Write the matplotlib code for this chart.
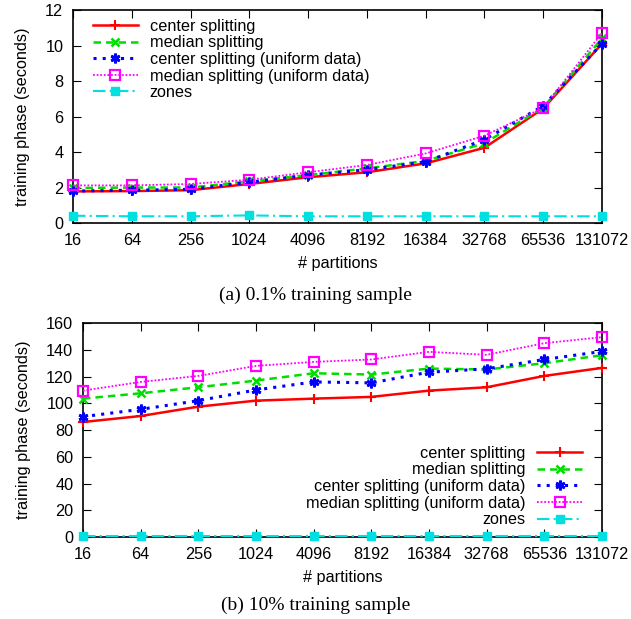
import matplotlib
matplotlib.use("Agg")
import matplotlib.pyplot as plt

plt.rcParams['font.family'] = ['Liberation Sans', 'DejaVu Sans']

partitions = ["16", "64", "256", "1024", "4096", "8192", "16384", "32768", "65536", "131072"]

# (a) 0.1% training sample
a_center = [1.78, 1.8, 1.85, 2.2, 2.58, 2.86, 3.36, 4.24, 6.45, 10.1]
a_median = [1.97, 2.0, 2.0, 2.35, 2.7, 3.08, 3.5, 4.5, 6.5, 10.4]
a_center_uni = [1.8, 1.85, 1.9, 2.3, 2.7, 3.0, 3.45, 4.7, 6.6, 10.1]
a_median_uni = [2.12, 2.12, 2.2, 2.44, 2.86, 3.27, 3.92, 4.92, 6.49, 10.7]
a_zones = [0.41, 0.38, 0.38, 0.43, 0.38, 0.38, 0.38, 0.38, 0.38, 0.38]

# (b) 10% training sample
b_center = [86.0, 90.5, 97.5, 102.0, 103.5, 104.8, 109.5, 112.0, 120.5, 126.5]
b_median = [103.5, 107.5, 112.0, 117.0, 122.5, 121.5, 126.0, 125.3, 130.0, 136.0]
b_center_uni = [90.0, 95.5, 102.0, 110.0, 116.0, 115.3, 123.3, 125.8, 132.8, 138.8]
b_median_uni = [109.5, 116.0, 120.5, 128.0, 131.0, 132.8, 138.5, 136.3, 145.0, 149.5]
b_zones = [0.5, 0.5, 0.5, 0.5, 0.5, 0.5, 0.5, 0.5, 0.5, 0.5]

labels = ["center splitting", "median splitting", "center splitting (uniform data)",
          "median splitting (uniform data)", "zones"]

styles = [
    dict(color='#ff0000', linestyle='-', marker='+', markersize=7, markeredgewidth=1.5, linewidth=1.8),
    dict(color='#00dd00', linestyle=(0, (3, 2)), marker='x', markersize=6, markeredgewidth=1.8, linewidth=1.8),
    dict(color='#0000ff', linestyle=(0, (1, 2)), marker=(6, 2, 0), markersize=7, markeredgewidth=2.0, linewidth=2.2),
    dict(color='#ff00ff', linestyle=(0, (1, 1)), marker='s', markersize=6.5, markerfacecolor='none',
         markeredgewidth=1.6, linewidth=1.3),
    dict(color='#00e0e0', linestyle=(0, (6, 2, 1, 2)), marker='s', markersize=6, linewidth=1.5),
]

fig = plt.figure(figsize=(6.31, 6.19), dpi=100)
ax1 = fig.add_axes([0.1157, 0.6397, 0.8383, 0.3441])
ax2 = fig.add_axes([0.1315, 0.1325, 0.8225, 0.3455])

x = list(range(len(partitions)))
fs = 11.7


def draw(ax, series, ymax, ystep):
    for ys, lab, st in zip(series, labels, styles):
        ax.plot(x, ys, label=lab, clip_on=False, zorder=3, **st)
    ax.set_xlim(0, len(partitions) - 1)
    ax.set_ylim(0, ymax)
    ax.set_yticks(range(0, ymax + 1, ystep))
    ax.set_xticks(x)
    ax.set_xticklabels(partitions)
    ax.tick_params(direction='in', top=True, right=True, length=6, labelsize=fs, pad=7)
    for s in ax.spines.values():
        s.set_linewidth(1.2)
    ax.set_xlabel("# partitions", fontsize=fs, labelpad=6)
    ax.set_ylabel("training phase (seconds)", fontsize=fs, labelpad=11)


draw(ax1, [a_center, a_median, a_center_uni, a_median_uni, a_zones], 12, 2)
draw(ax2, [b_center, b_median, b_center_uni, b_median_uni, b_zones], 160, 20)

ax1.legend(loc='upper left', frameon=False, fontsize=fs, handlelength=2.8,
           labelspacing=0.1, borderaxespad=0.0, handletextpad=0.7,
           bbox_to_anchor=(0.025, 0.99))
ax2.legend(loc='lower right', frameon=False, fontsize=fs, handlelength=2.8,
           labelspacing=0.1, borderaxespad=0.0, handletextpad=0.7, markerfirst=False,
           bbox_to_anchor=(0.975, 0.015))

fig.text(0.5, 1 - 295 / 619, "(a) 0.1% training sample", ha='center', va='center',
         fontsize=14, family='Liberation Serif')
fig.text(0.5, 1 - 605 / 619, "(b) 10% training sample", ha='center', va='center',
         fontsize=14, family='Liberation Serif')

fig.savefig("out.png", dpi=100)
